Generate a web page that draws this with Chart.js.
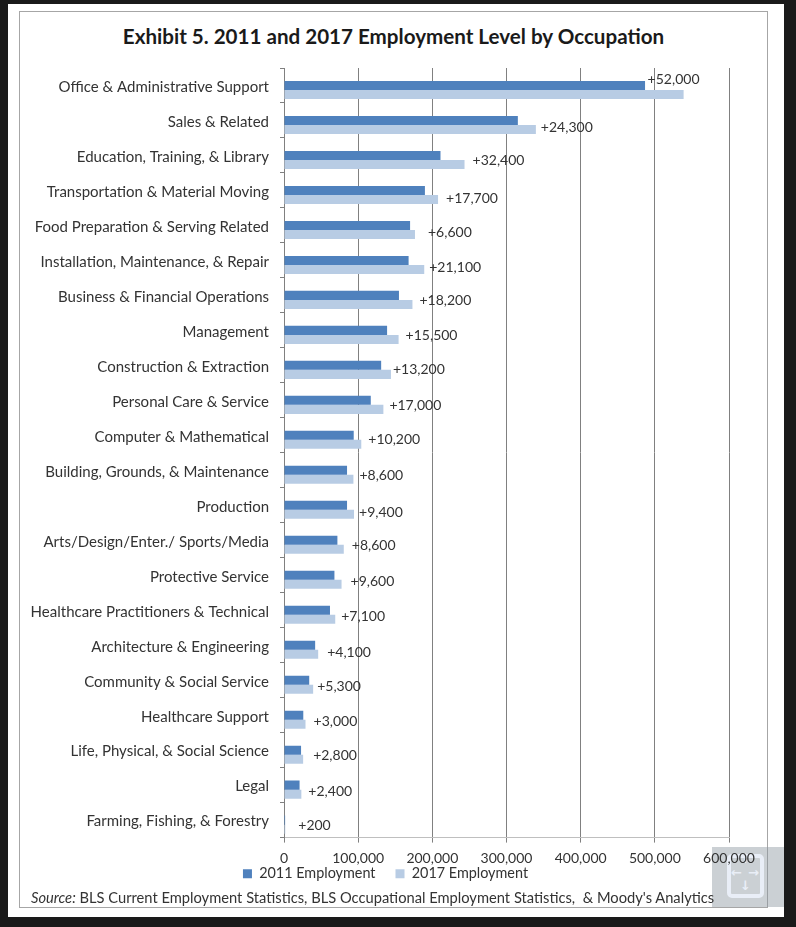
<!DOCTYPE html>
<html>
<head>
<meta charset="utf-8">
<title>Exhibit 5</title>
<script src="https://cdn.jsdelivr.net/npm/chart.js@4"></script>
<style>
    html, body { margin: 0; height: 100%; background: #1a1a1a; overflow: hidden; }
    #page { position: absolute; left: 0; top: 0; width: 796px; height: 927px; filter: blur(0.45px); }
    #paper { position: absolute; left: 8px; top: 4px; width: 776px; height: 913px; background: #fff; }
    #frame { position: absolute; left: 19px; top: 11px; width: 747px; height: 895px; border: 1px solid #a6a6a6; }
    #title { position: absolute; left: 19px; top: 24px; width: 749px; text-align: center; font: bold 20.6px Lato, sans-serif; color: #1a1a1a; }
    #source { position: absolute; left: 31px; top: 888px; font: 14.7px Lato, sans-serif; color: #333; white-space: nowrap; }
    #chartBox { position: absolute; left: 0; top: 48px; width: 768px; height: 863px; }
    #expand { position: absolute; left: 712px; top: 847px; width: 72px; height: 60px; background: rgba(140,150,160,.45); }
    #expand div { position: absolute; left: 15px; top: 7px; width: 29px; height: 36px; border: 4px solid #e9eef7; border-radius: 5px; }
    #expand span { position: absolute; color: #e9eef7; font: bold 13px "DejaVu Sans", sans-serif; line-height: 13px; }
</style>
</head>
<body>
<div id="page">
    <div id="paper"></div>
    <div id="frame"></div>
    <div id="expand">
        <div></div>
        <span style="left:28px;top:5px">&#8593;</span>
        <span style="left:19px;top:19px">&#8592;</span>
        <span style="left:36px;top:19px">&#8594;</span>
        <span style="left:28px;top:32px">&#8595;</span>
    </div>
    <div id="title">Exhibit 5. 2011 and 2017 Employment Level by Occupation</div>
    <div id="chartBox"><canvas id="employmentChart"></canvas></div>
    <div id="source"><i>Source:</i> BLS Current Employment Statistics, BLS Occupational Employment Statistics,&nbsp; &amp; Moody's Analytics</div>
</div>
<script>
const occupations = [
    'Office & Administrative Support', 'Sales & Related', 'Education, Training, & Library',
    'Transportation & Material Moving', 'Food Preparation & Serving Related',
    'Installation, Maintenance, & Repair', 'Business & Financial Operations', 'Management',
    'Construction & Extraction', 'Personal Care & Service', 'Computer & Mathematical',
    'Building, Grounds, & Maintenance', 'Production', 'Arts/Design/Enter./ Sports/Media',
    'Protective Service', 'Healthcare Practitioners & Technical', 'Architecture & Engineering',
    'Community & Social Service', 'Healthcare Support', 'Life, Physical, & Social Science',
    'Legal', 'Farming, Fishing, & Forestry'
];
const employment2011 = [
    486800, 315300, 211000, 190000, 170000, 168000, 155000, 139000, 131000, 117000, 94000,
    85000, 85000, 72000, 68000, 62000, 42000, 34000, 26000, 23000, 21000, 1500
];
const employment2017 = [
    538800, 339600, 243400, 207700, 176600, 189100, 173200, 154500, 144200, 134000, 104200,
    93600, 94400, 80600, 77600, 69100, 46100, 39300, 29000, 25800, 23400, 1700
];
const changeLabels = [
    '+52,000', '+24,300', '+32,400', '+17,700', '+6,600', '+21,100', '+18,200', '+15,500',
    '+13,200', '+17,000', '+10,200', '+8,600', '+9,400', '+8,600', '+9,600', '+7,100',
    '+4,100', '+5,300', '+3,000', '+2,800', '+2,400', '+200'
];

// hand placed in the original, so the labels get nudged one by one
const labelNudgeX = [-36, 5, 8, 8, 13, 5, 7, 7, 2, 6, 7, 6, 5, 8, 9, 6, 9, 4, 8, 10, 7, 13];
const labelNudgeY = [-15, -2, -4, -1, -2, -2, -4, -4, -5, -4, -5, -4, -2, -4, -3, -3, -2, -3, -3, -4, -3, -4];

const changeLabelPlugin = {
    id: 'changeLabels',
    afterLayout(chart) {
        // legend sits tight under the tick labels and a little right of centre
        const legend = chart.legend;
        legend.top -= 20;
        legend.bottom -= 20;
        legend.left += 21;
        legend.right += 21;
    },
    afterDatasetsDraw(chart) {
        const ctx = chart.ctx;
        const bars = chart.getDatasetMeta(2).data;
        ctx.save();
        ctx.font = '14px Lato, sans-serif';
        ctx.fillStyle = '#333';
        ctx.textBaseline = 'middle';
        bars.forEach((bar, i) => {
            ctx.fillText(changeLabels[i], bar.x + labelNudgeX[i], bar.y + labelNudgeY[i]);
        });
        ctx.restore();
    }
};

new Chart(document.getElementById('employmentChart'), {
    type: 'bar',
    data: {
        labels: occupations,
        datasets: [
            // empty slot, pushes the pair of bars below the middle of each row
            { label: 'spacer', data: [], backgroundColor: 'transparent' },
            { label: '2011 Employment', data: employment2011, backgroundColor: '#4f81bd' },
            { label: '2017 Employment', data: employment2017, backgroundColor: '#b8cce4' }
        ]
    },
    options: {
        indexAxis: 'y',
        responsive: true,
        maintainAspectRatio: false,
        animation: false,
        categoryPercentage: 0.775,
        barPercentage: 1,
        layout: { padding: { left: 0, right: 39, top: 16, bottom: 0 } },
        scales: {
            x: {
                min: 0,
                max: 600000,
                afterFit: scale => { scale.height = 29; },
                ticks: {
                    stepSize: 100000,
                    color: '#333',
                    padding: 7,
                    maxRotation: 0,
                    font: { family: 'Lato, sans-serif', size: 14 },
                    callback: value => value.toLocaleString('en-US')
                },
                border: { color: '#bfbfbf' },
                grid: { color: '#808080', tickLength: 5 }
            },
            y: {
                afterFit: scale => { scale.width = 284; },
                ticks: {
                    color: '#333',
                    padding: 11,
                    labelOffset: 1.5,
                    autoSkip: false,
                    font: { family: 'Lato, sans-serif', size: 15 }
                },
                border: { color: '#808080' },
                grid: { drawOnChartArea: false, color: '#808080', tickLength: 4 }
            }
        },
        plugins: {
            tooltip: { enabled: false },
            legend: {
                position: 'bottom',
                labels: {
                    boxWidth: 9,
                    boxHeight: 9,
                    padding: 20,
                    color: '#333',
                    font: { family: 'Lato, sans-serif', size: 14.4 },
                    filter: item => item.text !== 'spacer'
                }
            }
        }
    },
    plugins: [changeLabelPlugin]
});
</script>
</body>
</html>
